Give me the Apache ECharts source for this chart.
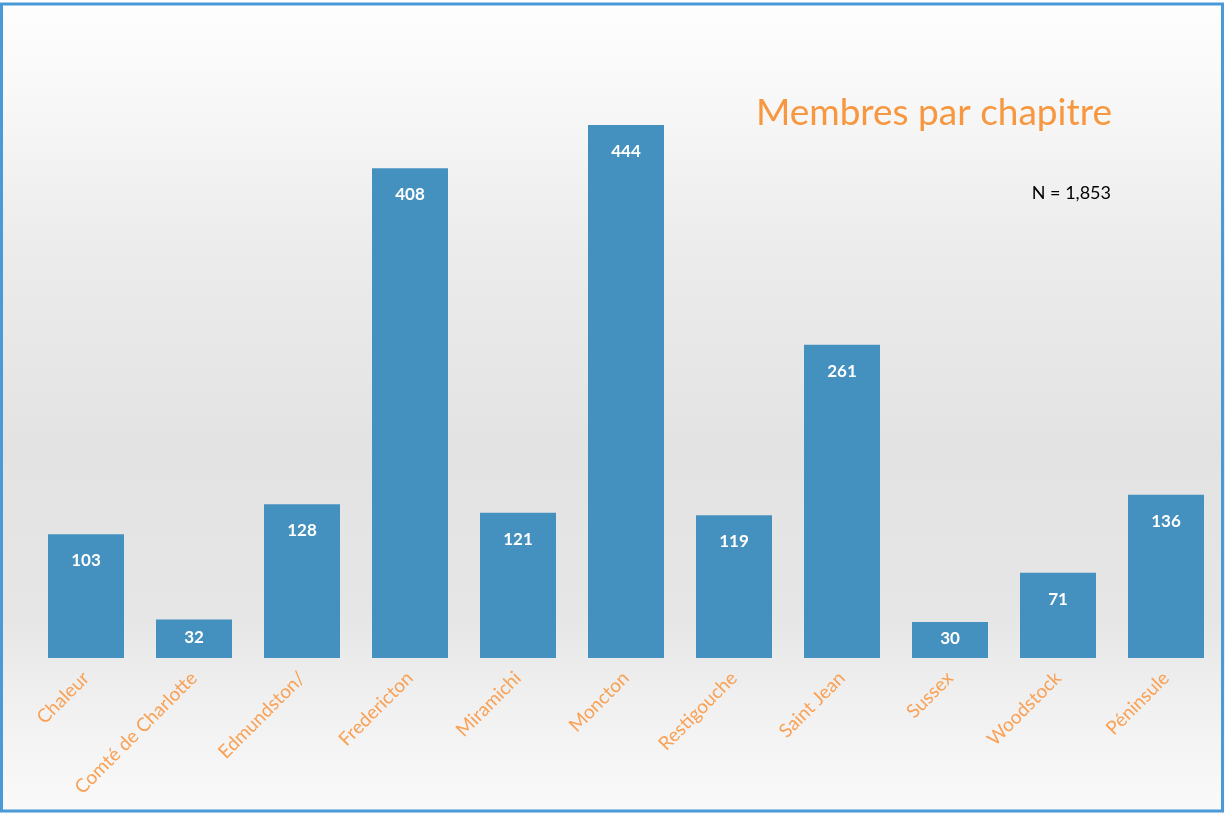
<!DOCTYPE html>
<html>
<head>
<meta charset="utf-8">
<script src="https://cdn.jsdelivr.net/npm/echarts@6/dist/echarts.min.js"></script>
<style>
html,body{margin:0;padding:0;background:#fff;}
#chart{width:1225px;height:814px;}
</style>
</head>
<body>
<div id="chart"></div>
<script>
const categories = ['Chaleur','Comté de Charlotte','Edmundston/','Fredericton','Miramichi','Moncton','Restigouche','Saint Jean','Sussex','Woodstock','Péninsule'];
const members = [103, 32, 128, 408, 121, 444, 119, 261, 30, 71, 136];
const titleText = 'Membres par chapitre';
const noteText = 'N = 1,853';

const chart = echarts.init(document.getElementById('chart'));
chart.setOption({
  animation: false,
  backgroundColor: {
    type: 'linear', x: 0, y: 0, x2: 0, y2: 1,
    colorStops: [
      {offset: 0, color: '#fefefe'},
      {offset: 0.1, color: '#f9f9f9'},
      {offset: 0.3, color: '#ececec'},
      {offset: 0.55, color: '#e3e3e3'},
      {offset: 0.76, color: '#e6e6e6'},
      {offset: 0.86, color: '#f0f0f0'},
      {offset: 1, color: '#fafafa'}
    ]
  },
  title: [
    {text: titleText, right: 108, top: 90,
     textStyle: {color: '#f7973f', fontSize: 37, fontWeight: 'normal', fontFamily: 'Lato'}},
    {text: noteText, right: 109, top: 179,
     textStyle: {color: '#000', fontSize: 18, fontWeight: 'normal', fontFamily: 'Lato'}}
  ],
  graphic: [{
    type: 'rect', shape: {x: 1.5, y: 4, width: 1221, height: 807},
    style: {fill: 'none', stroke: '#4a9ad8', lineWidth: 3}, silent: true, z: 100
  }],
  grid: {left: 32, right: 5, top: 125, bottom: 156, containLabel: false},
  xAxis: {
    type: 'category', data: categories,
    axisLine: {show: false}, axisTick: {show: false},
    axisLabel: {rotate: 45, margin: 17, color: '#f9a155', fontSize: 19, fontFamily: 'Lato', interval: 0}
  },
  yAxis: {type: 'value', min: 0, max: 444, show: false, splitLine: {show: false}},
  series: [{
    type: 'bar', data: members, barWidth: 76,
    itemStyle: {color: '#4490be'},
    label: {show: true, position: 'insideTop', distance: 18, color: '#fff',
            fontSize: 17, fontWeight: 'bold', fontFamily: 'Lato'},
    labelLayout: function (p) {
      if (p.rect.height < 60) {
        return {
          x: p.rect.x + p.rect.width / 2,
          y: p.rect.y + p.rect.height / 2 - 1,
          align: 'center',
          verticalAlign: 'middle'
        };
      }
      return {};
    }
  }]
});
</script>
</body>
</html>
